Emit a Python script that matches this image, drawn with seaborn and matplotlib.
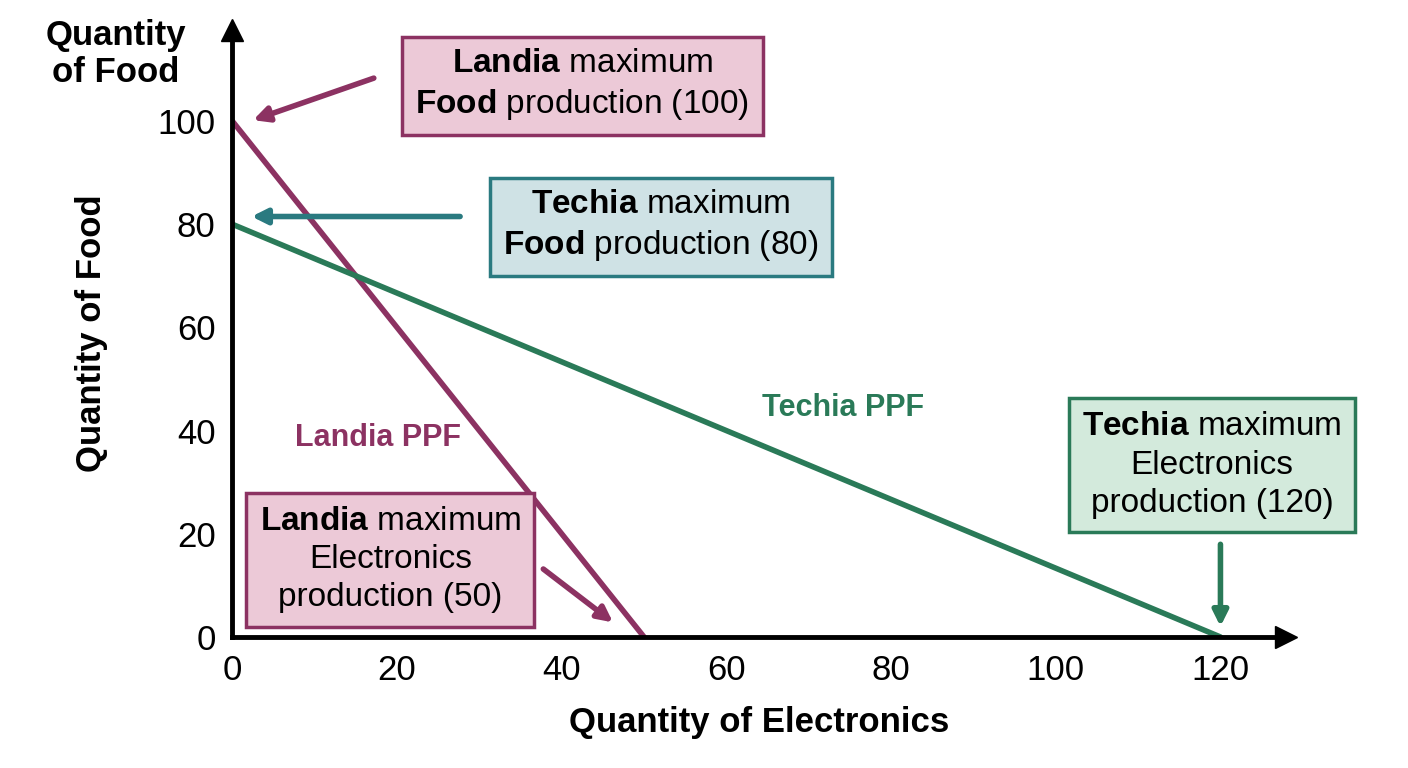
import matplotlib.pyplot as plt
import seaborn as sns

# PPF endpoints
landia_elec = [0, 50]
landia_food = [100, 0]
techia_elec = [0, 120]
techia_food = [80, 0]
xticks = [0, 20, 40, 60, 80, 100, 120]
yticks = [0, 20, 40, 60, 80, 100]

landia_col = '#8c3262'
techia_col = '#2a7a58'
teal_col = '#2a7a80'

sns.set_style('white')
plt.rcParams['font.family'] = ['Liberation Sans', 'DejaVu Sans']
plt.rcParams['mathtext.fontset'] = 'custom'
plt.rcParams['mathtext.rm'] = 'Liberation Sans'
plt.rcParams['mathtext.bf'] = 'Liberation Sans:bold'
plt.rcParams['text.color'] = 'black'
plt.rcParams['axes.labelcolor'] = 'black'
plt.rcParams['xtick.color'] = 'black'
plt.rcParams['ytick.color'] = 'black'

fig = plt.figure(figsize=(14.08, 7.68), dpi=100)
ax = fig.add_axes([0.165, 0.1706, 0.748, 0.790])

sns.lineplot(x=landia_elec, y=landia_food, color=landia_col, linewidth=4, ax=ax)
sns.lineplot(x=techia_elec, y=techia_food, color=techia_col, linewidth=4, ax=ax)

ax.set_xlim(0, 127.9)
ax.set_ylim(0, 117.6)
ax.set_xticks(xticks)
ax.set_yticks(yticks)
ax.tick_params(labelsize=25, length=0, pad=12)
for s in ['top', 'right']:
    ax.spines[s].set_visible(False)
for s in ['left', 'bottom']:
    ax.spines[s].set_linewidth(3.5)
    ax.spines[s].set_color('black')
ax.plot(1, 0, '>k', markersize=16, transform=ax.transAxes, clip_on=False)
ax.plot(0, 1, '^k', markersize=16, transform=ax.transAxes, clip_on=False)

ax.set_xlabel('Quantity of Electronics', fontsize=25, fontweight='bold', labelpad=14)
ax.set_ylabel('Quantity of Food', fontsize=25, fontweight='bold', labelpad=36)
fig.text(0.082, 0.93, 'Quantity\nof Food', fontsize=25, fontweight='bold',
         ha='center', va='center', linespacing=1.15)

ax.text(17.7, 38.5, 'Landia PPF', color=landia_col, fontsize=22, fontweight='bold',
        ha='center', va='center')
ax.text(74.2, 44.4, 'Techia PPF', color=techia_col, fontsize=22, fontweight='bold',
        ha='center', va='center')

def box(x, y, txt, fc, ec):
    ax.text(x, y, txt, fontsize=24, ha='center', va='center', linespacing=1.3,
            bbox=dict(boxstyle='square,pad=0.4', fc=fc, ec=ec, lw=2.5), zorder=5)

def arrow(x0, y0, x1, y1, col):
    ax.annotate('', xy=(x1, y1), xytext=(x0, y0),
                arrowprops=dict(arrowstyle='-|>,head_length=0.9,head_width=0.45',
                                color=col, lw=4), zorder=4)

box(42.5, 107, '$\\bf{Landia}$ maximum\n$\\bf{Food}$ production (100)', '#ecc9d7', landia_col)
arrow(17.5, 108.5, 2.2, 100, landia_col)
box(52, 79.7, '$\\bf{Techia}$ maximum\n$\\bf{Food}$ production (80)', '#cfe2e5', teal_col)
arrow(28, 81.5, 2, 81.5, teal_col)
box(19.2, 15, '$\\bf{Landia}$ maximum\nElectronics\nproduction (50)', '#ecc9d7', landia_col)
arrow(37.5, 13.5, 46.5, 2.5, landia_col)
box(119, 33.3, '$\\bf{Techia}$ maximum\nElectronics\nproduction (120)', '#d3eadc', techia_col)
arrow(120, 18.5, 120, 1.5, techia_col)

fig.savefig('out.png', dpi=100)
